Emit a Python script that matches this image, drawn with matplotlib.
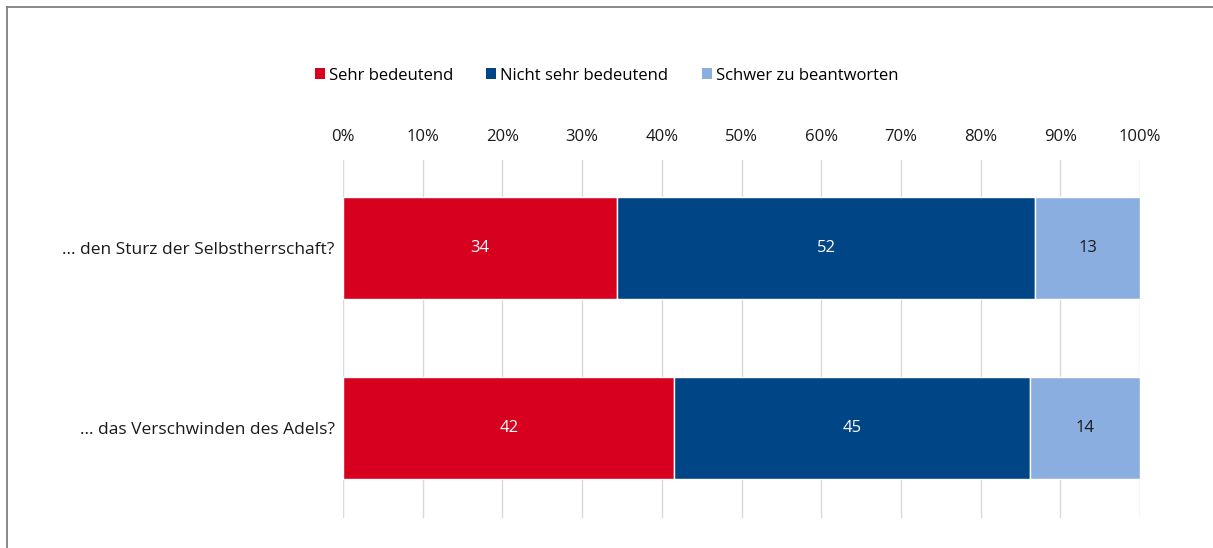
import matplotlib.pyplot as plt
from matplotlib.lines import Line2D
from matplotlib.patches import Patch

plt.rcParams['font.family'] = ['Open Sans', 'DejaVu Sans']

# Umfragewerte in Prozent
questions = ["… den Sturz der Selbstherrschaft?", "… das Verschwinden des Adels?"]
answers = ["Sehr bedeutend", "Nicht sehr bedeutend", "Schwer zu beantworten"]
sehr = [34, 42]
nicht_sehr = [52, 45]
schwer = [13, 14]

colors = ["#D7001E", "#004586", "#8BAEE0"]
label_colors = ["white", "white", "#1a1a1a"]

fig = plt.figure(figsize=(12.13, 5.48), dpi=100)
ax = fig.add_axes([0.2828, 0.0547, 0.657, 0.6533])

series = [sehr, nicht_sehr, schwer]
totals = [sum(v) for v in zip(*series)]
y = list(range(len(questions)))
left = [0.0] * len(questions)
for vals, col, tcol in zip(series, colors, label_colors):
    # 100%-gestapelt: jeden Wert auf die Zeilensumme normieren
    share = [v / t for v, t in zip(vals, totals)]
    ax.barh(y, share, left=left, height=0.567, color=col,
            edgecolor="white", linewidth=1, zorder=2)
    for i, (v, s) in enumerate(zip(vals, share)):
        ax.text(left[i] + s / 2, y[i], str(v), ha="center", va="center",
                color=tcol, fontsize=12, zorder=3)
    left = [l + s for l, s in zip(left, share)]

ax.set_xlim(0, 1)
ax.set_ylim(1.5, -0.49)
ax.set_xticks([i / 10 for i in range(11)])
ax.set_xticklabels([f"{i * 10}%" for i in range(11)])
ax.xaxis.tick_top()
ax.tick_params(axis="x", length=0, pad=11, labelsize=12, colors="#1a1a1a")
ax.set_yticks(y)
ax.set_yticklabels(questions)
ax.tick_params(axis="y", length=0, pad=6, labelsize=12.5, colors="#1a1a1a")
ax.grid(axis="x", color="#D9D9D9", linewidth=1, zorder=0)
ax.set_axisbelow(True)
for sp in ax.spines.values():
    sp.set_visible(False)

handles = [Patch(facecolor=c, edgecolor="none") for c in colors]
fig.legend(handles, answers, loc="center", bbox_to_anchor=(0.5, 0.862),
           ncol=3, frameon=False, fontsize=12, handlelength=0.6,
           handleheight=0.6, handletextpad=0.25, columnspacing=2.0)

# grauer Rahmen links und oben
fig.add_artist(Line2D([0.0055, 0.0055], [0, 0.988], transform=fig.transFigure,
                      color="#7f7f7f", linewidth=1.3))
fig.add_artist(Line2D([0.0055, 1], [0.988, 0.988], transform=fig.transFigure,
                      color="#7f7f7f", linewidth=1.3))

fig.savefig("out.png", dpi=100)
